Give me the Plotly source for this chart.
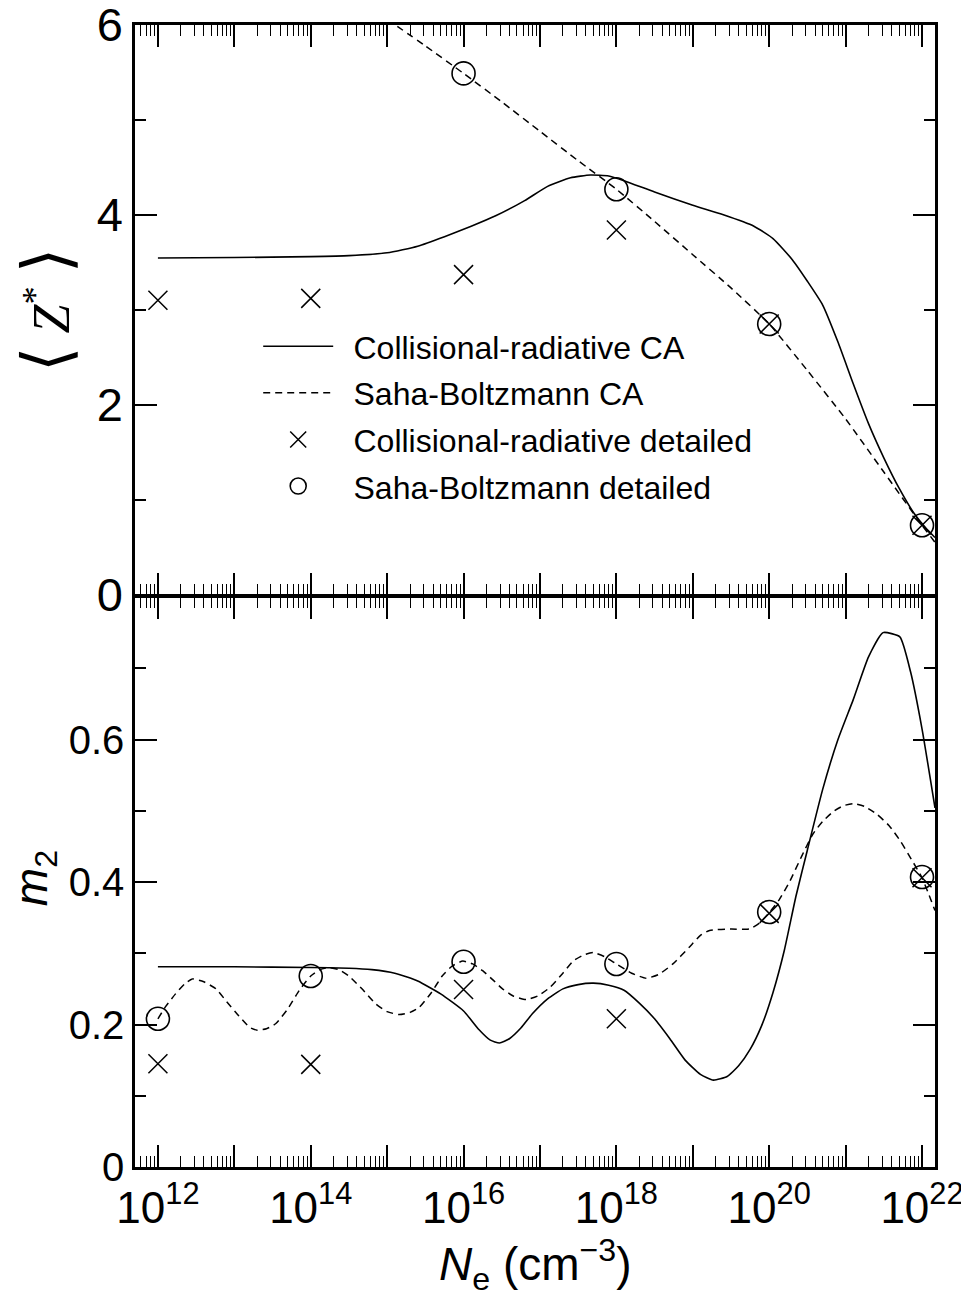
import plotly.graph_objects as go

# ---------------- data (x given as log10 of N_e in cm^-3) ----------------
# Top panel: <Z*>
z_cr_ca_exp = [12.0, 13.0, 14.0, 14.5, 15.0, 15.4, 15.75, 16.1, 16.42, 16.8, 17.1, 17.4, 17.66,
               17.9, 18.1, 18.5, 19.0, 19.4, 19.8, 20.05, 20.3, 20.5, 20.7, 20.9, 21.1, 21.3,
               21.5, 21.7, 21.9, 22.05, 22.17]
z_cr_ca_val = [3.546, 3.55, 3.56, 3.57, 3.60, 3.67, 3.77, 3.88, 3.99, 4.15, 4.30, 4.39, 4.42,
               4.41, 4.36, 4.24, 4.10, 4.00, 3.88, 3.75, 3.53, 3.30, 3.05, 2.66, 2.22, 1.80,
               1.44, 1.12, 0.85, 0.70, 0.60]

z_sb_ca_exp = [15.0, 15.5, 16.0, 16.5, 17.0, 17.5, 18.0, 18.5, 19.0, 19.5, 20.0, 20.5, 21.0,
               21.5, 22.0, 22.17]
z_sb_ca_val = [6.06, 5.78, 5.49, 5.19, 4.88, 4.57, 4.27, 3.93, 3.58, 3.23, 2.85, 2.36, 1.85,
               1.29, 0.73, 0.55]

z_cr_det_exp = [12, 14, 16, 18, 20, 22]
z_cr_det_val = [3.10, 3.12, 3.37, 3.84, 2.85, 0.73]

z_sb_det_exp = [16, 18, 20, 22]
z_sb_det_val = [5.49, 4.27, 2.85, 0.73]

# Bottom panel: m2
m_cr_ca_exp = [12.0, 13.0, 14.0, 14.5, 14.8, 15.1, 15.4, 15.7, 16.0, 16.2, 16.35, 16.47, 16.6,
               16.75, 16.9, 17.1, 17.3, 17.5, 17.7, 17.9, 18.1, 18.3, 18.5, 18.7, 18.9, 19.1,
               19.27, 19.45, 19.6, 19.75, 19.9, 20.05, 20.2, 20.35, 20.5, 20.7, 20.9, 21.1,
               21.3, 21.49, 21.71, 21.85, 22.0, 22.17]
m_cr_ca_val = [0.281, 0.281, 0.280, 0.279, 0.277, 0.272, 0.261, 0.243, 0.219, 0.193, 0.178,
               0.174, 0.180, 0.195, 0.215, 0.236, 0.250, 0.256, 0.258, 0.255, 0.248, 0.230,
               0.208, 0.180, 0.150, 0.130, 0.122, 0.127, 0.142, 0.165, 0.198, 0.245, 0.305,
               0.380, 0.445, 0.530, 0.600, 0.656, 0.716, 0.750, 0.744, 0.695, 0.615, 0.504]

m_sb_ca_exp = [12.0, 12.1, 12.23, 12.35, 12.45, 12.6, 12.76, 12.9, 13.06, 13.2, 13.3, 13.42,
               13.54, 13.7, 13.85, 14.0, 14.12, 14.24, 14.37, 14.5, 14.68, 14.85, 15.0, 15.16,
               15.3, 15.42, 15.58, 15.72, 15.85, 15.99, 16.12, 16.25, 16.38, 16.51, 16.65,
               16.82, 16.97, 17.13, 17.3, 17.44, 17.58, 17.70, 17.85, 18.0, 18.2, 18.39, 18.55,
               18.74, 18.95, 19.1, 19.22, 19.5, 19.74, 19.88, 20.0, 20.13, 20.27, 20.42, 20.57,
               20.7, 20.84, 20.97, 21.10, 21.25, 21.41, 21.57, 21.72, 21.86, 22.0, 22.08, 22.17]
m_sb_ca_val = [0.208, 0.225, 0.243, 0.257, 0.264, 0.260, 0.250, 0.232, 0.212, 0.196, 0.192,
               0.194, 0.201, 0.222, 0.248, 0.268, 0.277, 0.280, 0.277, 0.268, 0.249, 0.229,
               0.218, 0.214, 0.217, 0.224, 0.245, 0.268, 0.282, 0.289, 0.285, 0.2755, 0.263,
               0.250, 0.240, 0.235, 0.240, 0.252, 0.272, 0.2895, 0.298, 0.301, 0.295, 0.285,
               0.272, 0.265, 0.270, 0.285, 0.308, 0.325, 0.332, 0.334, 0.334, 0.343, 0.357,
               0.375, 0.401, 0.435, 0.467, 0.485, 0.499, 0.507, 0.510, 0.506, 0.495, 0.479,
               0.457, 0.432, 0.406, 0.385, 0.360]

m_cr_det_exp = [12, 14, 16, 18, 20, 22]
m_cr_det_val = [0.145, 0.144, 0.249, 0.208, 0.356, 0.406]

m_sb_det_exp = [12, 14, 16, 18, 20, 22]
m_sb_det_val = [0.208, 0.268, 0.288, 0.285, 0.358, 0.407]

x_decades = list(range(12, 23))
x_tick_text = [("10<sup>%d</sup>" % d) if d % 2 == 0 else "" for d in x_decades]
x_range_exp = [11.70, 22.17]

top_ticks = [0, 2, 4, 6]
top_minor = [1, 3, 5]
bot_ticks = [0, 0.2, 0.4, 0.6]
bot_tick_text = ["0", "0.2", "0.4", "0.6"]
bot_minor = [0.1, 0.3, 0.5, 0.7]

legend_names = ["Collisional-radiative CA", "Saha-Boltzmann CA",
                "Collisional-radiative detailed", "Saha-Boltzmann detailed"]

# ---------------- figure ----------------
FONT = "Liberation Sans, Arial, Helvetica, sans-serif"
BLACK = "#000000"
PAD = "\u00a0\u2009"

# the page body adds an 8 px margin around the figure; compensate for it
BODY = 8
PAGE_W, PAGE_H = 969, 1312
M_L, M_R, M_T, M_B = 135, 34, 25, 145   # wanted positions in page pixels
FIG_W, FIG_H = PAGE_W - BODY, PAGE_H - BODY


def X(exps):
    return [10.0 ** float(e) for e in exps]


fig = go.Figure()

line_solid = dict(color=BLACK, width=1.6, shape="spline", smoothing=0.5)
line_dash = dict(color=BLACK, width=1.5, dash="7px,5px", shape="spline", smoothing=0.5)
mk_x = dict(symbol="x-thin-open", size=19, color=BLACK, line=dict(color=BLACK, width=1.5))
mk_o = dict(symbol="circle-open", size=23, color=BLACK, line=dict(color=BLACK, width=1.6))

# top panel
fig.add_trace(go.Scatter(x=X(z_cr_ca_exp), y=z_cr_ca_val, mode="lines", line=line_solid,
                         name=PAD + legend_names[0], legendgroup="a", xaxis="x2", yaxis="y"))
fig.add_trace(go.Scatter(x=X(z_sb_ca_exp), y=z_sb_ca_val, mode="lines", line=line_dash,
                         name=PAD + legend_names[1], legendgroup="b", xaxis="x2", yaxis="y"))
fig.add_trace(go.Scatter(x=X(z_cr_det_exp), y=z_cr_det_val, mode="markers", marker=mk_x,
                         name=PAD + legend_names[2], legendgroup="c", xaxis="x2", yaxis="y"))
fig.add_trace(go.Scatter(x=X(z_sb_det_exp), y=z_sb_det_val, mode="markers", marker=mk_o,
                         name=PAD + legend_names[3], legendgroup="d", xaxis="x2", yaxis="y"))

# bottom panel
fig.add_trace(go.Scatter(x=X(m_cr_ca_exp), y=m_cr_ca_val, mode="lines", line=line_solid,
                         showlegend=False, xaxis="x", yaxis="y2"))
fig.add_trace(go.Scatter(x=X(m_sb_ca_exp), y=m_sb_ca_val, mode="lines", line=line_dash,
                         showlegend=False, xaxis="x", yaxis="y2"))
fig.add_trace(go.Scatter(x=X(m_cr_det_exp), y=m_cr_det_val, mode="markers", marker=mk_x,
                         showlegend=False, xaxis="x", yaxis="y2"))
fig.add_trace(go.Scatter(x=X(m_sb_det_exp), y=m_sb_det_val, mode="markers", marker=mk_o,
                         showlegend=False, xaxis="x", yaxis="y2"))

minor_x = [m * 10.0 ** d for d in range(11, 23) for m in range(2, 10)]

LW = 2.5
common_x = dict(type="log", range=x_range_exp, showgrid=False, zeroline=False,
                showline=True, linecolor=BLACK, linewidth=LW, mirror="ticks",
                ticks="inside", ticklen=22, tickwidth=1.5, tickcolor=BLACK,
                tickmode="array", tickvals=X(x_decades), ticktext=x_tick_text,
                minor=dict(tickmode="array", tickvals=minor_x, ticks="inside", ticklen=11,
                           tickwidth=1.3, tickcolor=BLACK),
                tickfont=dict(family=FONT, size=44, color=BLACK), automargin=False,
                ticklabeloverflow="allow")

common_y = dict(showgrid=False, zeroline=False, showline=True, linecolor=BLACK, linewidth=LW,
                mirror="ticks", ticks="inside", ticklen=22, tickwidth=1.5, tickcolor=BLACK,
                tickmode="array", automargin=False, ticklabeloverflow="allow")

PLOT_H = float(PAGE_H - M_T - M_B)      # 1142
split = 570.0 / PLOT_H

fig.update_layout(
    width=FIG_W, height=FIG_H,
    margin=dict(l=M_L - BODY, r=M_R, t=M_T - BODY, b=M_B, autoexpand=False),
    paper_bgcolor="white", plot_bgcolor="white",
    font=dict(family=FONT, color=BLACK),
    xaxis=dict(**common_x, anchor="y2", domain=[0, 1]),
    xaxis2=dict(**common_x, anchor="y", domain=[0, 1], matches="x", showticklabels=False),
    yaxis=dict(**common_y, domain=[split + LW / PLOT_H, 1], anchor="x2", range=[0, 6.0001],
               tickvals=top_ticks, ticktext=[str(v) for v in top_ticks],
               minor=dict(tickmode="array", tickvals=top_minor, ticks="inside", ticklen=11,
                          tickwidth=1.5, tickcolor=BLACK),
               tickfont=dict(family=FONT, size=47, color=BLACK)),
    yaxis2=dict(**common_y, domain=[0, split], anchor="x", range=[0, 0.8],
                tickvals=bot_ticks, ticktext=bot_tick_text,
                minor=dict(tickmode="array", tickvals=bot_minor, ticks="inside", ticklen=11,
                           tickwidth=1.5, tickcolor=BLACK),
                tickfont=dict(family=FONT, size=40, color=BLACK)),
    showlegend=True,
    legend=dict(x=0.154, y=0.7426, xanchor="left", yanchor="top", bgcolor="rgba(0,0,0,0)",
                font=dict(family=FONT, size=32, color=BLACK), traceorder="grouped",
                tracegroupgap=2, itemwidth=70),
)

# axis titles
fig.add_annotation(xref="paper", yref="paper", x=-0.111, y=(1167 - 310) / PLOT_H,
                   text=("<span style=\"font-size:66px\">⟨</span> <i>Z</i><sup>*</sup> "
                         "<span style=\"font-size:66px\">⟩</span>"),
                   textangle=-90, showarrow=False, xanchor="center", yanchor="middle",
                   font=dict(family="Liberation Serif, DejaVu Serif, serif", size=52, color=BLACK))
fig.add_annotation(xref="paper", yref="paper", x=-0.126, y=(1167 - 878) / PLOT_H,
                   text="<i>m</i><sub>2</sub>", textangle=-90, showarrow=False,
                   xanchor="center", yanchor="middle",
                   font=dict(family=FONT, size=46, color=BLACK))
fig.add_annotation(xref="paper", yref="paper", x=0.5, y=(1167 - 1264) / PLOT_H,
                   text="<i>N</i><sub>e</sub> (cm<sup>−3</sup>)", showarrow=False,
                   xanchor="center", yanchor="middle",
                   font=dict(family=FONT, size=46, color=BLACK))

fig.write_html("out.html")
